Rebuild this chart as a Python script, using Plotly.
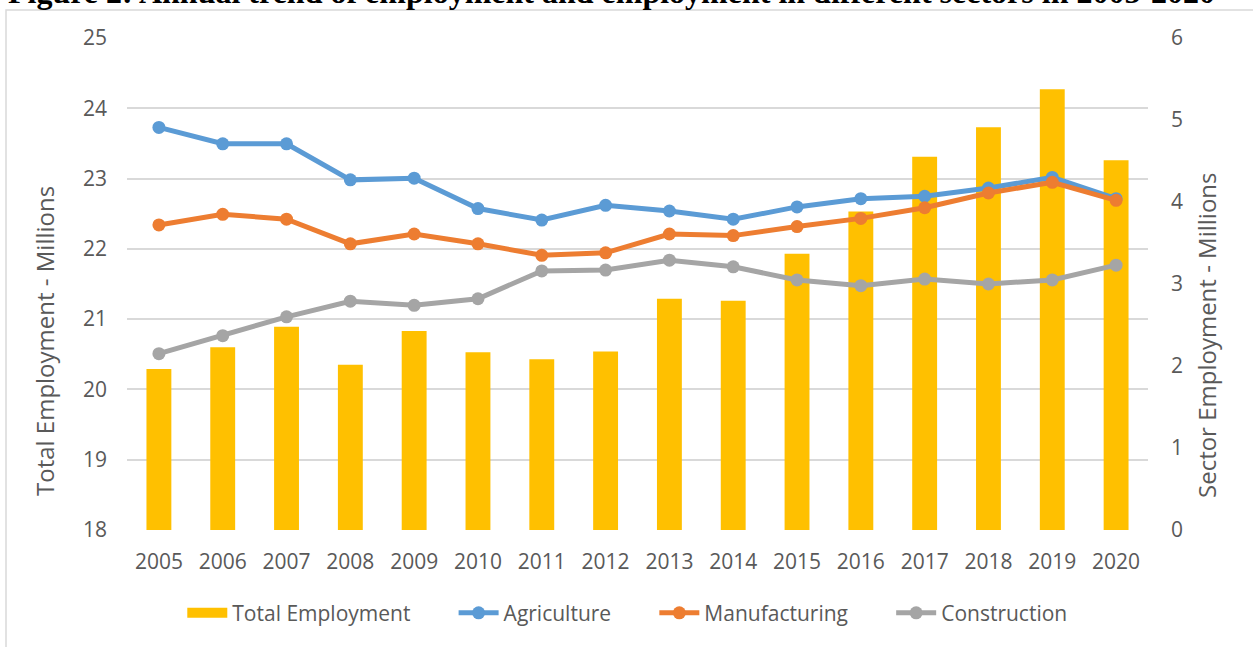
import plotly.graph_objects as go

years = ["2005", "2006", "2007", "2008", "2009", "2010", "2011", "2012",
         "2013", "2014", "2015", "2016", "2017", "2018", "2019", "2020"]
total_employment = [20.29, 20.60, 20.89, 20.35, 20.83, 20.53, 20.43, 20.54,
                    21.29, 21.26, 21.93, 22.53, 23.31, 23.73, 24.27, 23.26]
agriculture = [4.91, 4.71, 4.71, 4.27, 4.29, 3.92, 3.78, 3.96,
               3.89, 3.79, 3.94, 4.04, 4.07, 4.17, 4.30, 4.04]
manufacturing = [3.72, 3.85, 3.79, 3.49, 3.61, 3.49, 3.35, 3.38,
                 3.61, 3.59, 3.70, 3.80, 3.93, 4.11, 4.24, 4.02]
construction = [2.15, 2.37, 2.60, 2.79, 2.74, 2.82, 3.16, 3.17,
                3.29, 3.21, 3.05, 2.98, 3.06, 3.00, 3.05, 3.23]

title_text = "Figure 2: Annual trend of employment and employment in different sectors in 2005-2020"
left_title = "Total Employment - Millions"
right_title = "Sector Employment - Millions"

FONT = "Open Sans"
TXT = "#595959"
FS = 21
PAD = "&nbsp;" * 7

fig = go.Figure()
fig.add_trace(go.Bar(x=years, y=total_employment, name="Total Employment",
                     marker=dict(color="#FFC000", line=dict(width=0)),
                     width=0.39, yaxis="y", showlegend=False,
                     legendgroup="total"))
# legend-only entry giving the wide rectangular swatch of the bar series
fig.add_trace(go.Scatter(x=[years[0]], y=[None], name="Total Employment" + PAD,
                         mode="lines", line=dict(color="#FFC000", width=17),
                         legendgroup="total", hoverinfo="skip"))
series = [("Agriculture", agriculture, "#5B9BD5"),
          ("Manufacturing", manufacturing, "#ED7D31"),
          ("Construction", construction, "#A5A5A5")]
for i, (name, vals, col) in enumerate(series):
    label = name + (PAD if i < len(series) - 1 else "")
    fig.add_trace(go.Scatter(x=years, y=vals, name=label, yaxis="y2",
                             mode="lines+markers",
                             line=dict(color=col, width=5),
                             marker=dict(color=col, size=13)))

fig.update_layout(
    width=1253, height=647,
    margin=dict(l=127, r=105, t=38, b=117, autoexpand=False),
    paper_bgcolor="white", plot_bgcolor="white",
    font=dict(family=FONT, size=FS, color=TXT),
    showlegend=True,
    legend=dict(orientation="h", x=0.49, xanchor="center", y=-0.169, yanchor="middle",
                font=dict(family=FONT, size=FS, color=TXT), traceorder="normal",
                itemwidth=40),
    xaxis=dict(type="category", range=[-0.5, 15.5], showgrid=False, showline=False,
               ticks="", automargin=False,
               tickfont=dict(size=FS, color=TXT), ticklabelstandoff=17),
    yaxis=dict(range=[18, 25], dtick=1, showgrid=True, gridcolor="#D9D9D9", gridwidth=1.5,
               zeroline=False, showline=False, ticks="", automargin=False,
               tickfont=dict(size=FS, color=TXT), ticklabelstandoff=19),
    yaxis2=dict(range=[0, 6], dtick=1, overlaying="y", side="right", showgrid=False,
                zeroline=False, showline=False, ticks="", automargin=False,
                tickfont=dict(size=FS, color=TXT), ticklabelstandoff=22),
    bargap=0.6,
)

fig.add_shape(type="rect", xref="paper", yref="paper",
              x0=-0.1185, x1=1.12, y0=-0.3, y1=1.0569,
              line=dict(color="#D9D9D9", width=1.5), layer="below")

fig.add_annotation(text=left_title, xref="paper", yref="paper", textangle=-90,
                   x=-0.0813, xanchor="center", y=0.065, yanchor="bottom",
                   showarrow=False, font=dict(family=FONT, size=24, color=TXT))
fig.add_annotation(text=right_title, xref="paper", yref="paper", textangle=-90,
                   x=1.0578, xanchor="center", y=0.061, yanchor="bottom",
                   showarrow=False, font=dict(family=FONT, size=24, color=TXT))

fig.add_annotation(text="<b>" + title_text + "</b>", xref="paper", yref="paper",
                   x=-0.1185, xanchor="left", y=1.052, yanchor="bottom", showarrow=False,
                   font=dict(family="Liberation Serif", size=32, color="black"))

fig.write_html("out.html")
